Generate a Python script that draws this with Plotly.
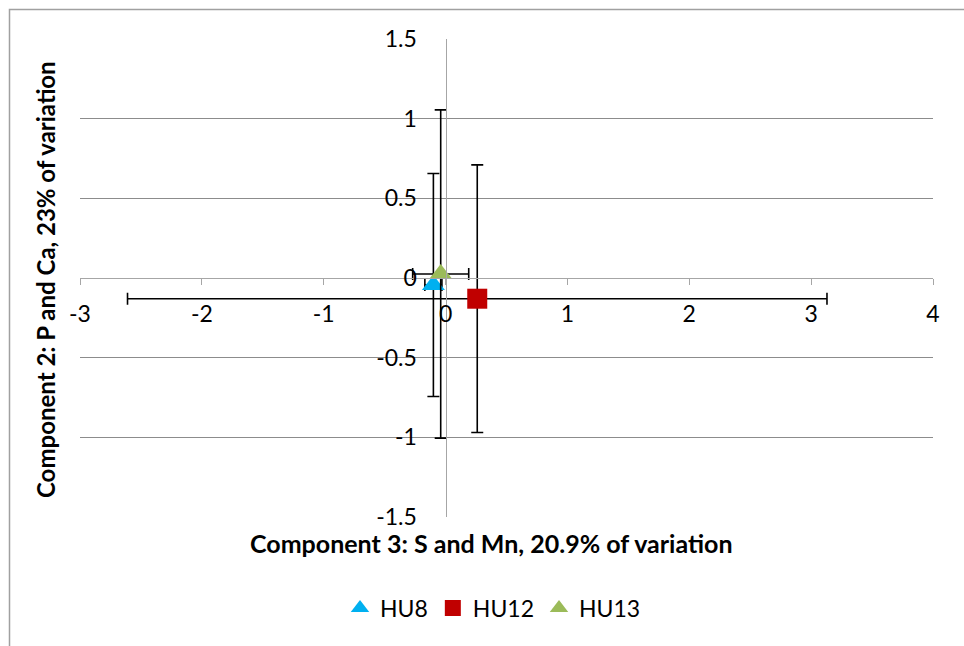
import plotly.graph_objects as go

# PCA scores (component 3 vs component 2) with standard-deviation error bars
groups = ["HU8", "HU12", "HU13"]
comp3 = [-0.10, 0.26, -0.04]
comp2 = [-0.044, -0.13, 0.025]
comp3_err = [0.07, 2.87, 0.23]
comp2_err = [0.70, 0.84, 1.03]
symbols = ["triangle-up", "square", "triangle-up"]
colors = ["#00B0F0", "#C00000", "#9BBB59"]

x_ticks = [-3, -2, -1, 0, 1, 2, 3, 4]
y_ticks = [-1.5, -1, -0.5, 0, 0.5, 1, 1.5]

FONT = "Lato, 'Liberation Sans', sans-serif"
GRID = "#8C8C8C"
AXIS = "#A6A6A6"

fig = go.Figure()
for g, x, y, ex, ey, s, c in zip(groups, comp3, comp2, comp3_err, comp2_err, symbols, colors):
    fig.add_trace(go.Scatter(
        x=[x], y=[y], mode="markers", name=g,
        marker=dict(symbol=s, size=20, color=c, line=dict(width=0)),
        error_x=dict(type="constant", value=ex, color="black", thickness=1.6, width=6),
        error_y=dict(type="constant", value=ey, color="black", thickness=1.6, width=6),
    ))

L, R, T, B = 80, 31, 39, 129
W, H = 964, 646
pw, ph = W - L - R, H - T - B

fig.update_layout(
    width=W, height=H,
    margin=dict(l=L, r=R, t=T, b=B),
    paper_bgcolor="white", plot_bgcolor="white",
    font=dict(family=FONT, size=23, color="black"),
    showlegend=True,
    legend=dict(orientation="h", x=(493 - L) / pw, xanchor="center",
                y=(H - B - 608) / ph, yanchor="middle",
                font=dict(size=23), itemwidth=30, tracegroupgap=0,
                bgcolor="rgba(0,0,0,0)"),
    xaxis=dict(
        range=[-3, 4], tickvals=x_ticks, ticktext=[str(v) for v in x_ticks],
        tickfont=dict(size=23),
        showgrid=False, zeroline=False,
        showline=True, linecolor=AXIS, linewidth=1.3,
        ticks="outside", ticklen=6, tickcolor=AXIS, tickwidth=1.3,
        anchor="free", position=0.5, ticklabelstandoff=9,
    ),
    yaxis=dict(
        range=[-1.5, 1.5], tickvals=y_ticks,
        ticktext=["-1.5", "-1", "-0.5", "0", "0.5", "1", "1.5"],
        tickfont=dict(size=23),
        showgrid=True, gridcolor=GRID, gridwidth=1.2, zeroline=False,
        showline=True, linecolor=AXIS, linewidth=1.3,
        ticks="", anchor="free", position=3 / 7, ticklabelstandoff=24,
    ),
    annotations=[
        dict(text="<b>Component 3: S and Mn, 20.9% of variation</b>",
             xref="paper", yref="paper", x=(491 - L) / pw, y=(H - B - 543) / ph,
             xanchor="center", yanchor="middle", showarrow=False, font=dict(size=25)),
        dict(text="<b>Component 2: P and Ca, 23% of variation</b>",
             xref="paper", yref="paper", x=(45 - L) / pw, y=(H - B - 280) / ph,
             xanchor="center", yanchor="middle", textangle=-90, showarrow=False,
             font=dict(size=24)),
    ],
    shapes=[
        dict(type="rect", xref="paper", yref="paper",
             x0=(9.5 - L) / pw, x1=(W + 5 - L) / pw,
             y0=(H - B - (H + 5)) / ph, y1=(H - B - 9.5) / ph,
             line=dict(color="#A0A0A0", width=1.5), fillcolor="rgba(0,0,0,0)"),
    ],
)

fig.write_html("out.html")
